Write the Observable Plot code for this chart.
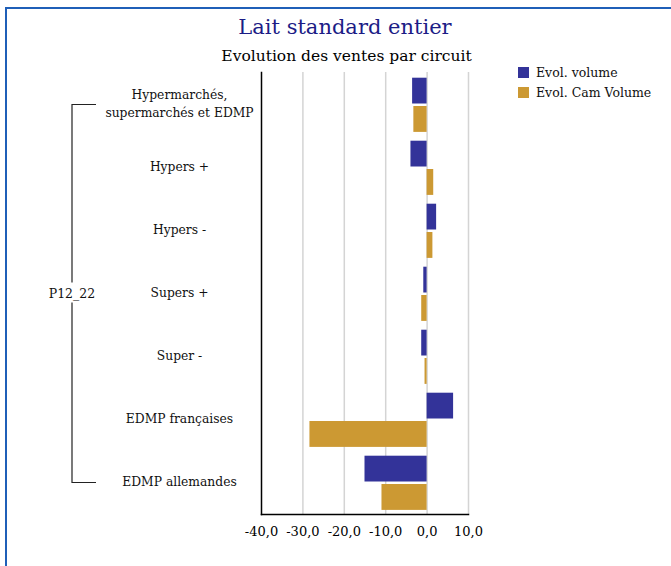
<!DOCTYPE html>
<html>
<head>
<meta charset="utf-8">
<script src="https://cdn.jsdelivr.net/npm/d3@7"></script>
<script src="https://cdn.jsdelivr.net/npm/@observablehq/plot@0.6"></script>
<style>
  body { margin: 0; background: #fff; }
  #wrap { position: relative; width: 671px; height: 566px; overflow: hidden; background: #fff; font-family: "DejaVu Serif", serif; }
  #frame { position: absolute; left: 5px; top: 7px; width: 800px; height: 700px; border-left: 2px solid #1f5fb8; border-top: 2px solid #1f5fb8; box-sizing: border-box; }
  .ttl { position: absolute; left: 0; width: 690px; text-align: center; line-height: 1; white-space: nowrap; }
  #title { top: 17px; font-size: 21px; color: #1c1c86; }
  #subtitle { top: 49px; font-size: 15.5px; color: #000; width: 693px; }
  #legend { position: absolute; left: 518px; top: 63px; font-size: 12.5px; color: #111; }
  .li { display: flex; align-items: center; height: 19.5px; }
  .sw { width: 11px; height: 11px; margin-right: 7px; }
  #chart { position: absolute; left: 0; top: 0; }
</style>
</head>
<body>
<div id="wrap">
  <div id="frame"></div>
  <div id="chart"></div>
  <div class="ttl" id="title">Lait standard entier</div>
  <div class="ttl" id="subtitle">Evolution des ventes par circuit</div>
  <div id="legend"></div>
</div>
<script>
const categories = ["Hypermarchés,\nsupermarchés et EDMP", "Hypers +", "Hypers -", "Supers +", "Super -", "EDMP françaises", "EDMP allemandes"];
const seriesNames = ["Evol. volume", "Evol. Cam Volume"];
const seriesColors = ["#333399", "#cc9933"];
const evolVolume = [-3.5, -3.9, 2.3, -0.8, -1.3, 6.4, -15.0];
const evolCamVolume = [-3.2, 1.6, 1.4, -1.3, -0.5, -28.3, -10.9];
const xTicks = [-40, -30, -20, -10, 0, 10];
const groupLabel = "P12_22";

const volData = categories.map((c, i) => ({cat: c, value: evolVolume[i]}));
const camData = categories.map((c, i) => ({cat: c, value: evolCamVolume[i]}));

const plot = Plot.plot({
  width: 671,
  height: 566,
  marginLeft: 261,
  marginRight: 203,
  marginTop: 72,
  marginBottom: 52,
  style: {fontFamily: "DejaVu Serif", fontSize: "12.5px", color: "#000", background: "transparent"},
  x: {domain: [-40, 10], axis: null, label: null},
  y: {domain: categories, padding: 0, axis: null, label: null},
  marks: [
    Plot.gridX(xTicks.filter(d => d > -40), {stroke: "#d4d4d4", strokeOpacity: 1, strokeWidth: 1.5}),
    Plot.barX(volData, {x: "value", y: "cat", fill: seriesColors[0], insetTop: 4.7, insetBottom: 32.5}),
    Plot.barX(camData, {x: "value", y: "cat", fill: seriesColors[1], insetTop: 33, insetBottom: 4.1}),
    Plot.frame({anchor: "left", stroke: "#000", strokeWidth: 1.5}),
    Plot.frame({anchor: "bottom", stroke: "#000", strokeWidth: 1.5}),
    Plot.axisX({ticks: xTicks, tickFormat: d => d.toFixed(1).replace(".", ","), tickSize: 0, tickPadding: 12, fontSize: 13, fill: "#000", label: null}),
    Plot.text(categories, {y: d => d, text: d => d, frameAnchor: "left", dx: -82, dy: -3, textAnchor: "middle", lineHeight: 1.5, fontSize: 12.3, fill: "#111"})
  ]
});
document.getElementById("chart").appendChild(plot);

// bracket grouping the categories, positioned with the plot's own y scale
const ys = plot.scale("y");
const yc = v => ys.apply(v) + ys.bandwidth / 2;
const yTop = yc(categories[0]);
const yBot = yc(categories[categories.length - 1]);
const yMid = (yTop + yBot) / 2;
const svg = d3.select(plot);
const g = svg.append("g").attr("stroke", "#222").attr("stroke-width", 1.2).attr("fill", "none");
g.append("path").attr("d", `M96,${yTop}H72V${yMid - 11}`);
g.append("path").attr("d", `M72,${yMid + 9}V${yBot}H96`);
svg.append("text").attr("x", 72).attr("y", yMid).attr("dy", "0.35em")
  .attr("text-anchor", "middle").attr("font-size", 12.5).attr("fill", "#111").text(groupLabel);

const legend = document.getElementById("legend");
seriesNames.forEach((n, i) => {
  const row = document.createElement("div");
  row.className = "li";
  row.innerHTML = `<span class="sw" style="background:${seriesColors[i]}"></span><span>${n}</span>`;
  legend.appendChild(row);
});
</script>
</body>
</html>
